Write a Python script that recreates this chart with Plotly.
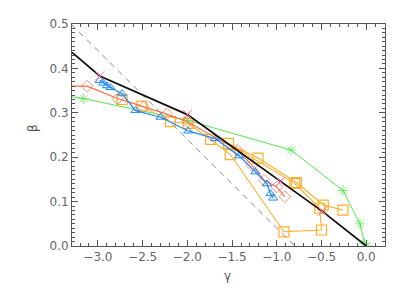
import plotly.graph_objects as go

# ---- data ----
black_x = [-3.29, -2.98, -2.00, -0.96, -0.49, 0.00]
black_y = [0.436, 0.383, 0.296, 0.145, 0.078, 0.000]
cross_x = [-2.98, -2.00, -0.96, -0.49]
cross_y = [0.383, 0.296, 0.145, 0.078]

dash_x = [-3.30, -0.80]
dash_y = [0.50, 0.00]

green_x = [-3.29, -3.16, -2.00, -0.84, -0.26, -0.07, -0.02, 0.00]
green_y = [0.336, 0.332, 0.283, 0.216, 0.125, 0.050, 0.006, 0.000]
green_mk = [False, True, True, True, True, True, True, True]

red_x = [-3.29, -3.12, -2.78, -2.49, -2.23, -2.00, -1.44, -1.28, -1.14, -1.00, -0.91]
red_y = [0.360, 0.360, 0.332, 0.313, 0.297, 0.280, 0.216, 0.182, 0.148, 0.133, 0.111]
red_mk = [False] + [True] * 10

blue_x = [-2.98, -2.94, -2.90, -2.86, -2.73, -2.58, -2.30, -1.99, -1.69, -1.42, -1.24, -1.11, -1.07, -1.04]
blue_y = [0.373, 0.367, 0.361, 0.357, 0.343, 0.305, 0.290, 0.259, 0.242, 0.203, 0.167, 0.140, 0.118, 0.108]

orange_x = [-2.73, -2.51, -2.19, -1.99, -1.74, -1.52, -0.92, -0.50, -0.52, -0.80,
            -1.54, -1.21, -0.78, -0.48, -0.26]
orange_y = [0.330, 0.315, 0.280, 0.276, 0.240, 0.206, 0.032, 0.036, 0.085, 0.141,
            0.231, 0.198, 0.143, 0.092, 0.081]

x_ticks = [-3.0, -2.5, -2.0, -1.5, -1.0, -0.5, 0.0]
y_ticks = [0.0, 0.1, 0.2, 0.3, 0.4, 0.5]

fig = go.Figure()

fig.add_trace(go.Scatter(x=dash_x, y=dash_y, mode="lines",
                         line=dict(color="#8c8c8c", width=1, dash="6px,5px"), hoverinfo="skip"))

fig.add_trace(go.Scatter(x=green_x, y=green_y, mode="lines+markers",
                         line=dict(color="#50e850", width=1),
                         marker=dict(symbol="asterisk-open", size=[9 if m else 0 for m in green_mk],
                                     line=dict(color="#3ee03e", width=1))))

fig.add_trace(go.Scatter(x=orange_x, y=orange_y, mode="lines+markers",
                         line=dict(color="#ffae2a", width=1.1),
                         marker=dict(symbol="square-open", size=10,
                                     line=dict(color="#ffcf86", width=1.2))))

fig.add_trace(go.Scatter(x=red_x, y=red_y, mode="lines+markers",
                         line=dict(color="#ff6a4a", width=1.1),
                         marker=dict(symbol="diamond-open", size=[9 if m else 0 for m in red_mk],
                                     line=dict(color="#ff7a6a", width=1))))

fig.add_trace(go.Scatter(x=blue_x, y=blue_y, mode="lines+markers",
                         line=dict(color="#1e8cff", width=1.3),
                         marker=dict(symbol="triangle-up-open", size=8,
                                     line=dict(color="#6cc4ff", width=1))))

fig.add_trace(go.Scatter(x=black_x, y=black_y, mode="lines",
                         line=dict(color="#111111", width=1.8)))

fig.add_trace(go.Scatter(x=cross_x, y=cross_y, mode="markers",
                         marker=dict(symbol="x-thin-open", size=9,
                                     line=dict(color="#777777", width=1))))

axis_common = dict(
    showline=True, linecolor="#555555", linewidth=1, mirror="allticks",
    ticks="inside", ticklen=6, tickcolor="#555555", tickwidth=1,
    showgrid=False, zeroline=False, automargin=False,
    tickfont=dict(family="DejaVu Sans", size=12, color="#666666"),
)

fig.update_xaxes(range=[-3.29, 0.21], tickvals=x_ticks,
                 ticktext=[f"{v:.1f}".replace("-", "\u2212") for v in x_ticks],
                 minor=dict(ticks="inside", ticklen=3, dtick=0.1, tick0=0, tickcolor="#555555"),
                 **axis_common)
fig.update_yaxes(range=[0.0, 0.5], tickvals=y_ticks,
                 ticktext=[f"{v:.1f}" for v in y_ticks],
                 minor=dict(ticks="inside", ticklen=3, dtick=0.01, tick0=0, tickcolor="#555555"),
                 **axis_common)

W, H = 407, 291
L, R, T, B = 72, 22, 24, 45
fig.update_layout(
    width=W, height=H,
    margin=dict(l=L, r=R, t=T, b=B, autoexpand=False),
    paper_bgcolor="white", plot_bgcolor="white",
    showlegend=False,
)
pw, ph = W - L - R, H - T - B
fig.add_annotation(text="γ", x=(227 - L) / pw, y=-(276 - (H - B)) / ph, xref="paper", yref="paper",
                   xanchor="center", yanchor="middle",
                   showarrow=False, font=dict(family="DejaVu Sans", size=12, color="#555555"))
fig.add_annotation(text="β", x=-(L - 33) / pw, y=((H - B) - 128) / ph, xref="paper", yref="paper",
                   xanchor="center", yanchor="middle",
                   showarrow=False, textangle=-90,
                   font=dict(family="DejaVu Sans", size=12, color="#555555"))

fig.write_html("out.html", config={"displayModeBar": False},
               post_script="document.body.style.margin='0px';document.body.style.padding='0px';")
